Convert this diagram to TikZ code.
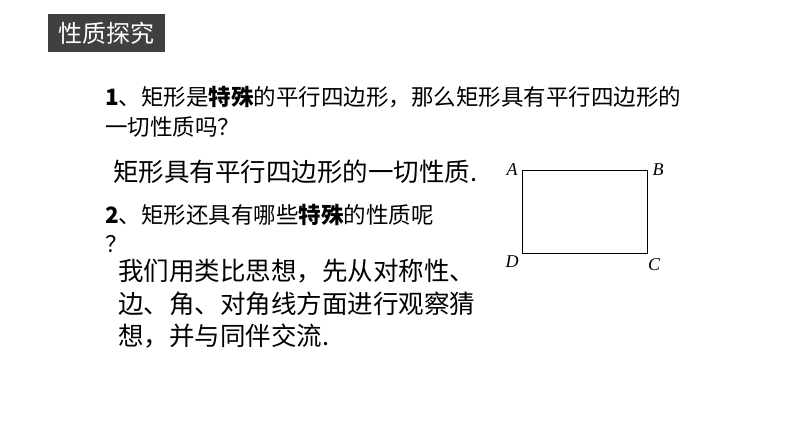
\documentclass[tikz,border=0pt]{standalone}
\usepackage{fontspec}
\setmainfont{Noto Sans CJK SC}
\newfontfamily\latinserif{Liberation Serif}
\begin{document}
\begin{tikzpicture}[x=1pt,y=-1pt,
  txt/.style={anchor=west,inner sep=0pt,font=\fontsize{22.5}{24}\selectfont},
  big/.style={anchor=west,inner sep=0pt,font=\fontsize{25.5}{28}\selectfont},
  lbl/.style={inner sep=0pt,font=\fontsize{18}{20}\latinserif\itshape}]
\useasboundingbox (0,0) rectangle (794,447);
\fill[white] (0,0) rectangle (794,447);
\node[fill=black!75,text=white,minimum width=117pt,minimum height=38pt,inner sep=0pt,font=\fontsize{24}{26}\selectfont] (hdr) at (106.5,33) {性质探究};
\node[txt] (l1) at (105,97) {\textbf{1}、矩形是\textbf{特殊}的平行四边形，那么矩形具有平行四边形的};
\node[txt] (l2) at (105,127) {一切性质吗？};
\node[big] (l3) at (113,172) {矩形具有平行四边形的一切性质.};
\node[txt] (l4) at (105,215) {\textbf{2}、矩形还具有哪些\textbf{特殊}的性质呢};
\node[txt] (l5) at (105,244) {？};
\node[big] (l6) at (118,271) {我们用类比思想，先从对称性、};
\node[big] (l7) at (118,304) {边、角、对角线方面进行观察猜};
\node[big] (l8) at (118,336) {想，并与同伴交流.};
\coordinate (A) at (522,170);
\coordinate (B) at (647,170);
\coordinate (C) at (647,253);
\coordinate (D) at (522,253);
\draw[line width=1pt] (A) -- (B) -- (C) -- (D) -- cycle;
\node[lbl] (la) at (512,170) {A};
\node[lbl] (lb) at (658,170) {B};
\node[lbl] (ld) at (512,262) {D};
\node[lbl] (lc) at (654,265) {C};
\end{tikzpicture}
\end{document}
